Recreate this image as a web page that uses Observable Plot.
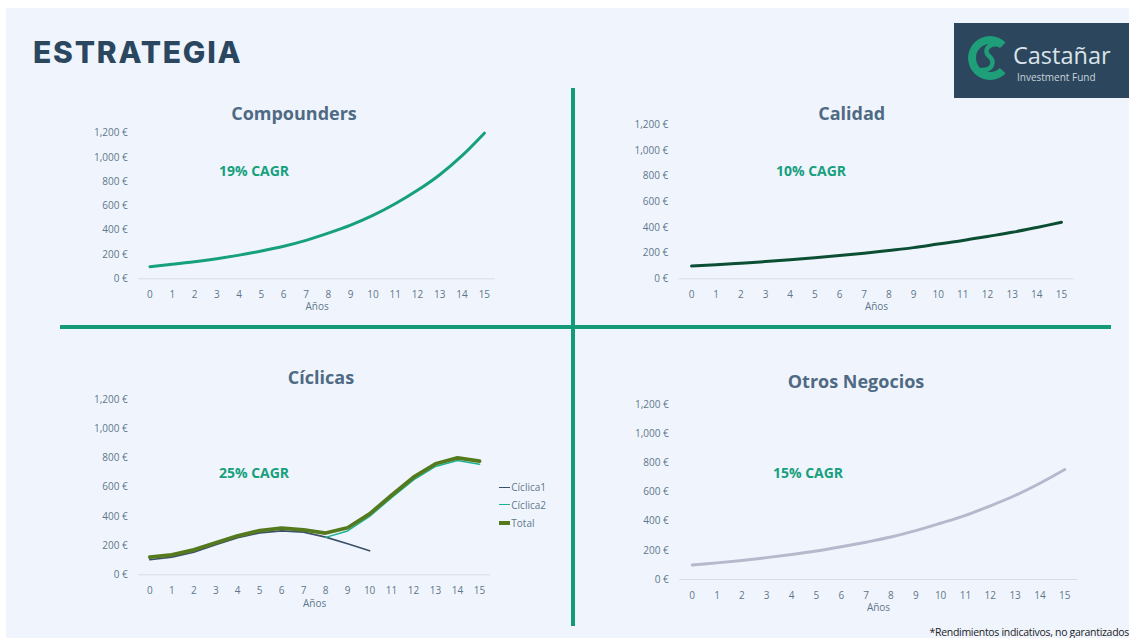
<!DOCTYPE html>
<html>
<head>
<meta charset="utf-8">
<script src="https://cdn.jsdelivr.net/npm/d3@7"></script>
<script src="https://cdn.jsdelivr.net/npm/@observablehq/plot@0.6"></script>
<style>
  html, body { margin: 0; padding: 0; width: 1129px; height: 638px; overflow: hidden; background: #ffffff; font-family: "Open Sans", sans-serif; }
  #slide { position: absolute; left: 6px; top: 8px; width: 1123px; height: 630px; background: #f0f5fd; }
  .abs { position: absolute; }
  #heading { left: 33px; top: 36.6px; font-family: Inter, sans-serif; font-weight: 800; font-size: 30px; letter-spacing: 1.8px; color: #2b475f; line-height: 1; }
  .ctitle { font-weight: 700; font-size: 18px; color: #4f6a84; line-height: 1; white-space: nowrap; transform: translate(-50%, -50%); }
  .cagr { font-weight: 700; font-size: 14px; color: #17a07e; line-height: 1; white-space: nowrap; transform: translate(-50%, -50%); }
  .vline { left: 571px; top: 88px; width: 3.5px; height: 538px; background: #139a79; }
  .hline { left: 60px; top: 324.7px; width: 1051px; height: 4px; background: #139a79; }
  .legend-row { display: flex; align-items: center; height: 14px; font-size: 10px; color: #60758b; transform: translateY(-50%); }
  .legend-row span.sw { display: inline-block; width: 11px; margin-right: 1px; }
  #foot { right: 0; top: 626.5px; font-size: 10.5px; line-height: 1; color: #222; white-space: nowrap; letter-spacing: -0.3px; }
</style>
</head>
<body>
<div id="slide"></div>
<div id="heading" class="abs">ESTRATEGIA</div>

<!-- logo -->
<div class="abs" style="left:954px;top:23px;width:175px;height:75px;background:#2c475d;">
  <svg width="175" height="75">
    <path d="M51.6,19.4 A22,22 0 1,0 51.6,50.6 L45.9,44.9 A14,14 0 1,1 45.9,25.1 Z" fill="#1f9e7a"/>
    <path d="M46,22 C36,19 28,27 35,33 C42,39 38,48 27,47" fill="none" stroke="#1f9e7a" stroke-width="4.5" stroke-linecap="round"/>
    <text x="59" y="40.5" font-family="Open Sans" font-size="23.5" fill="#dce3ea">Castañar</text>
    <text x="63" y="58" font-family="Open Sans" font-size="10" fill="#c9d2db">Investment Fund</text>
  </svg>
</div>

<div class="abs vline"></div>
<div class="abs hline"></div>

<div class="abs ctitle" style="left:294px;top:112.7px;">Compounders</div>
<div class="abs ctitle" style="left:851.7px;top:112.7px;">Calidad</div>
<div class="abs ctitle" style="left:321px;top:376.7px;">Cíclicas</div>
<div class="abs ctitle" style="left:856px;top:380.7px;">Otros Negocios</div>

<div class="abs cagr" style="left:254px;top:171px;">19% CAGR</div>
<div class="abs cagr" style="left:811px;top:171px;">10% CAGR</div>
<div class="abs cagr" style="left:254px;top:473.3px;">25% CAGR</div>
<div class="abs cagr" style="left:808px;top:472.7px;">15% CAGR</div>

<div id="c1" class="abs"></div>
<div id="c2" class="abs"></div>
<div id="c3" class="abs"></div>
<div id="c4" class="abs"></div>
<div id="legend" class="abs" style="left:499.3px;top:0;"></div>

<div id="foot" class="abs">*Rendimientos indicativos, no garantizados</div>

<script>
// Years on the horizontal axis
const years = [0, 1, 2, 3, 4, 5, 6, 7, 8, 9, 10, 11, 12, 13, 14, 15];
// Value ticks (euros)
const yTicks = [0, 200, 400, 600, 800, 1000, 1200];

// Growth of 100 € per strategy
const compounders = [100, 119, 140, 165, 195, 229, 268, 317, 376, 442, 522, 618, 729, 858, 1015, 1200];
const calidad = [100, 110, 122, 134, 148, 164, 181, 200, 221, 243, 271, 298, 330, 362, 400, 440];
const otros = [100, 114, 131, 150, 171, 195, 224, 256, 291, 335, 386, 440, 505, 576, 660, 754];

// Cyclical businesses: two overlapping cycles and their total
const ciclica1 = [103, 121, 155, 205, 253, 287, 301, 292, 258, 212, 164, null, null, null, null, null];
const ciclica2 = [null, null, null, null, null, null, null, null, 256, 300, 400, 528, 650, 742, 783, 756];
const total = [121, 137, 171, 219, 267, 303, 319, 308, 286, 322, 417, 545, 668, 760, 800, 778];

const seriesNames = ["Cíclica1", "Cíclica2", "Total"];
const seriesColors = ["#3b4f68", "#1cb193", "#557a1e"];
const seriesWidths = [1.6, 1.5, 3.8];

const tickColor = "#60758b";
const euro = d => d3.format(",")(d) + " €";

function chart({ id, left, top, width, height, mL, mR, mT, mB, lines, labelDy }) {
  const el = document.getElementById(id);
  el.style.left = left + "px";
  el.style.top = top + "px";
  const marks = [
    Plot.ruleY([0], { stroke: "#d6dce4", strokeWidth: 1 }),
    ...lines,
    Plot.axisY({ ticks: yTicks, tickFormat: euro, tickSize: 0, tickPadding: 11, label: null }),
    Plot.axisX({ ticks: years, tickFormat: d => String(d), tickSize: 0, tickPadding: 12, label: null }),
    Plot.text(["Años"], { frameAnchor: "bottom", dy: labelDy, fill: tickColor, fontSize: 10 })
  ];
  const svg = Plot.plot({
    width, height,
    marginLeft: mL, marginRight: mR, marginTop: mT, marginBottom: mB,
    x: { type: "linear", domain: [-0.5, 15.5] },
    y: { domain: [0, 1200] },
    style: { background: "transparent", fontFamily: "Open Sans", fontSize: "10px", color: tickColor, overflow: "visible" },
    marks
  });
  el.appendChild(svg);
}

chart({
  id: "c1", left: 60, top: 100, width: 450, height: 220,
  mL: 78.3, mR: 15, mT: 32.7, mB: 41.7, labelDy: 31,
  lines: [Plot.lineY(compounders, { x: years, stroke: "#16a07e", strokeWidth: 3, curve: "catmull-rom" })]
});

chart({
  id: "c2", left: 600, top: 100, width: 500, height: 220,
  mL: 78.7, mR: 26.7, mT: 24.3, mB: 41.7, labelDy: 31,
  lines: [Plot.lineY(calidad, { x: years, stroke: "#0c4e33", strokeWidth: 3, curve: "catmull-rom" })]
});

chart({
  id: "c3", left: 60, top: 380, width: 450, height: 240,
  mL: 78.3, mR: 20, mT: 19, mB: 45.7, labelDy: 32.4,
  lines: [
    Plot.lineY(ciclica1, { x: years, stroke: seriesColors[0], strokeWidth: seriesWidths[0] }),
    Plot.lineY(ciclica2, { x: years, stroke: seriesColors[1], strokeWidth: seriesWidths[1] }),
    Plot.lineY(total, { x: years, stroke: seriesColors[2], strokeWidth: seriesWidths[2], strokeLinejoin: "round" })
  ]
});

chart({
  id: "c4", left: 600, top: 380, width: 500, height: 245,
  mL: 79.3, mR: 23.3, mT: 24, mB: 46, labelDy: 31,
  lines: [Plot.lineY(otros, { x: years, stroke: "#b6b9cc", strokeWidth: 3, curve: "catmull-rom" })]
});

// Legend for the cyclical chart
const legend = document.getElementById("legend");
const rowTops = [487.3, 504.7, 522.7];
seriesNames.forEach((name, i) => {
  const row = document.createElement("div");
  row.className = "legend-row abs";
  row.style.top = rowTops[i] + "px";
  row.style.left = "0px";
  const sw = document.createElement("span");
  sw.className = "sw";
  sw.style.height = seriesWidths[i] + "px";
  sw.style.background = seriesColors[i];
  row.appendChild(sw);
  row.appendChild(document.createTextNode(name));
  legend.appendChild(row);
});
</script>
</body>
</html>
